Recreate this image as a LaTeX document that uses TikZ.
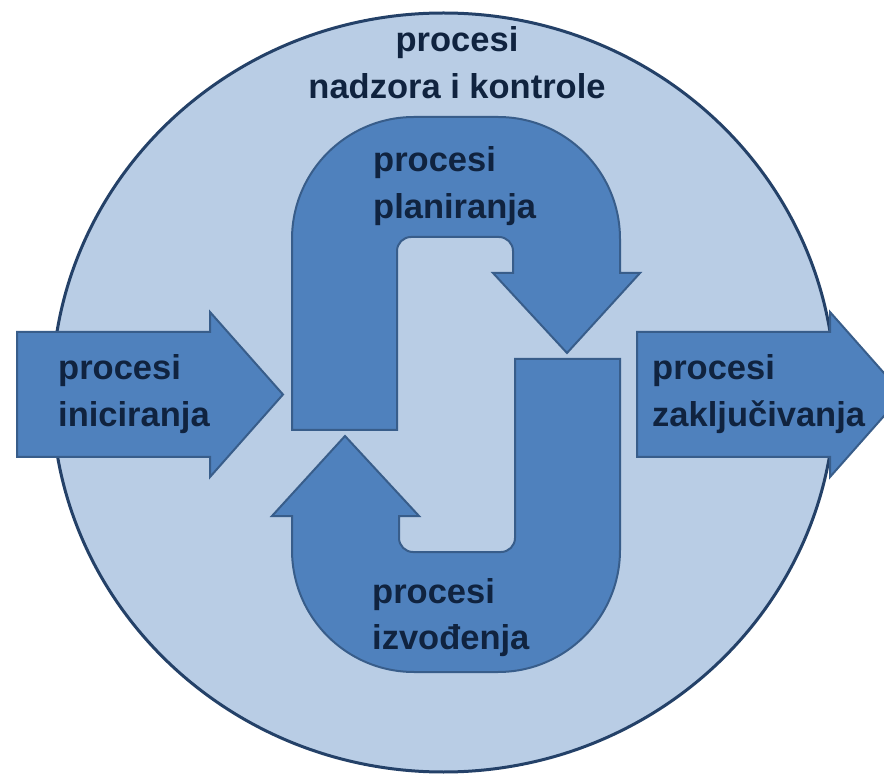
\documentclass[tikz,border=0pt]{standalone}
\usepackage{fontspec}
\setmainfont{Liberation Sans}
\definecolor{cycleback}{HTML}{B9CDE5}
\definecolor{cycleedge}{HTML}{244168}
\definecolor{arrowfill}{HTML}{4F81BD}
\definecolor{arrowedge}{HTML}{385D8A}
\definecolor{labeltext}{HTML}{10233F}
\begin{document}
\begin{tikzpicture}[x=1pt,y=-1pt]
% Styles
\tikzstyle{process arrow}=[fill=arrowfill,draw=arrowedge,line width=2pt,line join=miter]
\tikzstyle{process text}=[anchor=base west,inner sep=0pt,align=left,text=labeltext,font=\bfseries\fontsize{34.5}{46.5}\selectfont]

\clip (0,0) rectangle (884,775);
\fill[white] (0,0) rectangle (884,775);

% the big ellipse behind everything
\draw[fill=cycleback,draw=cycleedge,line width=3pt] (443.5,392.5) ellipse [x radius=391.5, y radius=379.5];

% arrow in and arrow out
\draw[process arrow] (17,332) -- (210,332) -- (210,312) -- (283,394.5) -- (210,477) -- (210,457) -- (17,457) -- cycle;
\draw[process arrow] (637,332) -- (830,332) -- (830,312) -- (903,394.5) -- (830,477) -- (830,457) -- (637,457) -- cycle;

% the two turning arrows, the lower one is the upper one turned round
\foreach \turn in {0,180} {
\draw[process arrow,rotate around={\turn:(456,394.5)}] (292,430) -- (292,239)
  arc[start angle=180,end angle=270,radius=122] -- (498,117)
  arc[start angle=270,end angle=360,radius=122] -- (620,273) -- (640,273)
  -- (567,353) -- (493,273) -- (513,273) -- (513,251)
  arc[start angle=0,end angle=-90,radius=14] -- (411,237)
  arc[start angle=-90,end angle=-180,radius=14] -- (397,430) -- cycle;
}

% labels (base = last line)
\node[process text,anchor=base,align=center] (control) at (457,98.5) {procesi\\nadzora i kontrole};
\node[process text] (planning) at (373,218.5) {procesi\\planiranja};
\node[process text] (execution) at (372,649.5) {procesi\\izvođenja};
\node[process text] (initiation) at (58,426.5) {procesi\\iniciranja};
\node[process text] (closing) at (652,426.5) {procesi\\zaključivanja};

\end{tikzpicture}
\end{document}
